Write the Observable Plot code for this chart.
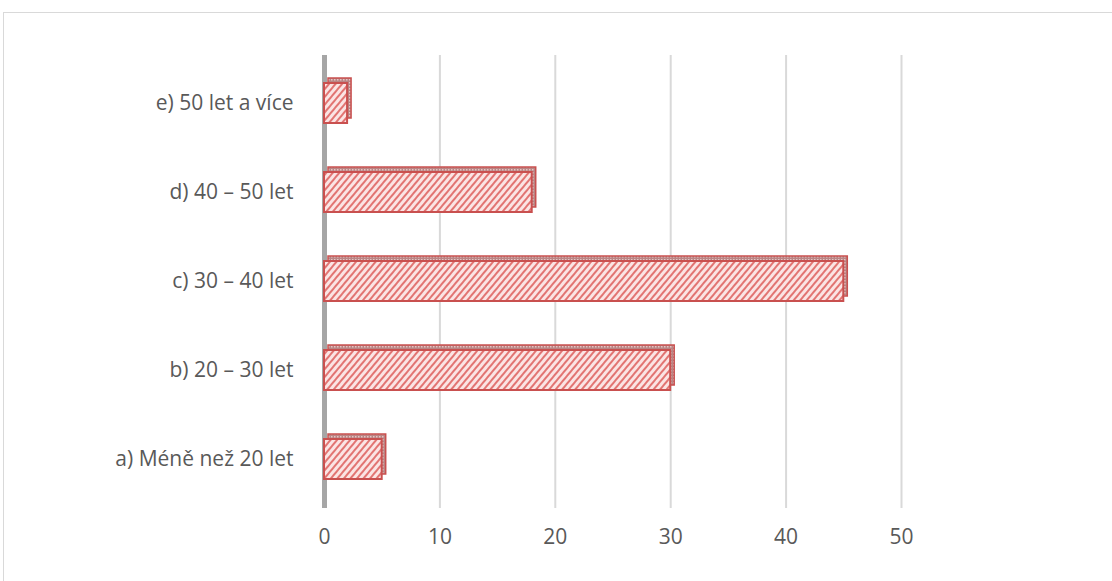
<!DOCTYPE html>
<html>
<head>
<meta charset="utf-8">
<script src="https://cdn.jsdelivr.net/npm/d3@7"></script>
<script src="https://cdn.jsdelivr.net/npm/@observablehq/plot@0.6"></script>
<style>
  html, body { margin: 0; padding: 0; background: #fff; overflow: hidden; width: 1112px; height: 581px; }
  #frame { position: absolute; left: 3px; top: 12px; width: 1200px; height: 700px; border: 1px solid #d9d9d9; box-sizing: border-box; }
  #chart { position: absolute; left: 0; top: 0; }
  #chart svg { font-family: "Open Sans", "Noto Sans", sans-serif; }
</style>
</head>
<body>
<div id="frame"></div>
<div id="chart"></div>
<script>
const categories = [
  "a) Méně než 20 let",
  "b) 20 – 30 let",
  "c) 30 – 40 let",
  "d) 40 – 50 let",
  "e) 50 let a více"
];
const values = [5, 30, 45, 18, 2];
const xTicks = [0, 10, 20, 30, 40, 50];

const data = categories.map((c, i) => ({category: c, value: values[i]}));

const chart = Plot.plot({
  width: 1112,
  height: 581,
  marginLeft: 324,
  marginRight: 211,
  marginTop: 58,
  marginBottom: 76,
  style: {fontSize: "21px", color: "#595959", background: "transparent"},
  x: {domain: [0, 50], label: null},
  y: {domain: categories.slice().reverse(), paddingInner: 0.55, paddingOuter: 0.28, label: null},
  marks: [
    Plot.ruleX(xTicks.filter(d => d > 0), {stroke: "#d9d9d9", strokeWidth: 2, insetTop: -3, insetBottom: -3}),
    Plot.ruleX([0], {stroke: "#a6a6a6", strokeWidth: 5, insetTop: -3, insetBottom: -3}),
    // 3D depth (top + side face)
    Plot.barX(data, {x: "value", y: "category", dx: 4, dy: -5, fill: "url(#topface)", stroke: "#c9504f", strokeWidth: 1.5}),
    // front face
    Plot.barX(data, {x: "value", y: "category", fill: "url(#hatch)", stroke: "#c9504f", strokeWidth: 2}),
    Plot.axisX(xTicks, {tickSize: 0, tickPadding: 24, fill: "#595959", fontSize: 21, label: null}),
    Plot.axisY({tickSize: 0, tickPadding: 31, fill: "#595959", fontSize: 21, label: null})
  ]
});

// patterns
const svgSel = d3.select(chart);
const defs = svgSel.insert("defs", ":first-child");
const hatch = defs.append("pattern")
  .attr("id", "hatch").attr("patternUnits", "userSpaceOnUse")
  .attr("width", 5).attr("height", 5).attr("patternTransform", "rotate(40)");
hatch.append("rect").attr("width", 5).attr("height", 5).attr("fill", "#fbe4e4");
hatch.append("rect").attr("width", 2).attr("height", 5).attr("fill", "#e27472");
const topPat = defs.append("pattern")
  .attr("id", "topface").attr("patternUnits", "userSpaceOnUse")
  .attr("width", 3).attr("height", 3);
topPat.append("rect").attr("width", 3).attr("height", 3).attr("fill", "#b98584");
topPat.append("rect").attr("width", 1.5).attr("height", 1.5).attr("fill", "#e6c4c4");

document.getElementById("chart").append(chart);
</script>
</body>
</html>
